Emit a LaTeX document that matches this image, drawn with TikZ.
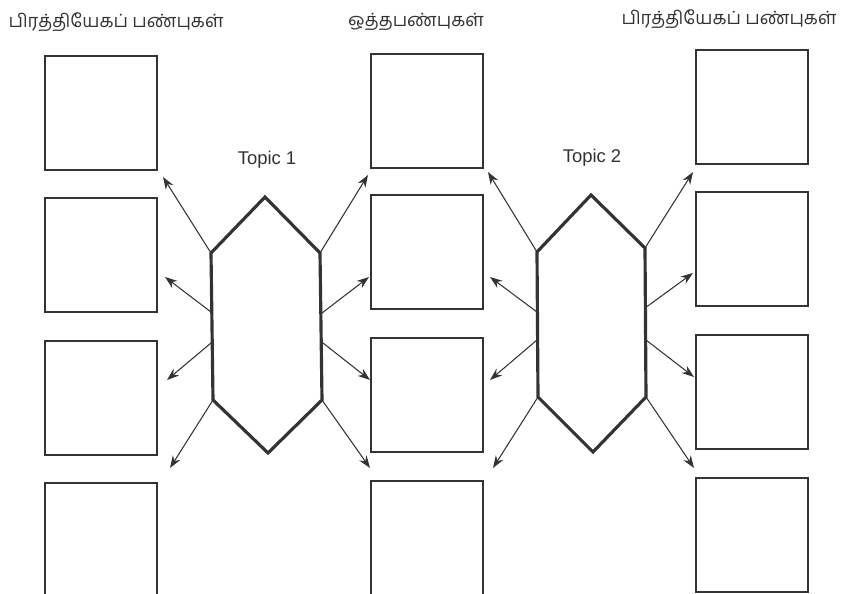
\documentclass[tikz,border=0pt]{standalone}
\usepackage{fontspec}
\setmainfont{Liberation Sans}
\newfontfamily\tamilfont[Script=Tamil]{Hind Madurai}
\usetikzlibrary{arrows.meta}
\definecolor{ink}{HTML}{333333}

\tikzset{
  box/.style={draw=ink, line width=1.2pt, minimum width=2.24cm, minimum height=2.28cm, inner sep=0pt},
  hexa/.style={draw=ink, line width=1.8pt, line join=miter},
  link/.style={draw=ink, line width=0.6pt, -{Stealth[length=7pt,width=5pt]}},
  head/.style={text=ink, font=\tamilfont\fontsize{10.4}{12}\selectfont},
  topic/.style={text=ink, font=\fontsize{10.5}{12}\selectfont}
}

\begin{document}
\begin{tikzpicture}[x=0.02cm,y=-0.02cm]
\useasboundingbox (0,0) rectangle (849,594);
\clip (0,0) rectangle (849,594);
% headings
\node[head] (hL) at (116,22) {பிரத்தியேகப் பண்புகள்};
\node[head] (hM) at (416,22) {ஒத்தபண்புகள்};
\node[head] (hR) at (729,19) {பிரத்தியேகப் பண்புகள்};
% columns of boxes
\foreach \n/\x/\a/\b/\c/\d in {L/101/113/255/398/540, M/427/111/252/395/538, R/752/107/249/392/535}{
  \node[box] (\n1) at (\x,\a) {};
  \node[box] (\n2) at (\x,\b) {};
  \node[box] (\n3) at (\x,\c) {};
  \node[box] (\n4) at (\x,\d) {};
}
% topic 1
\coordinate (a1) at (265,197); \coordinate (a2) at (320,253); \coordinate (a3) at (322,400);
\coordinate (a4) at (268,453); \coordinate (a5) at (213,400); \coordinate (a6) at (211,253);
\draw[hexa] (a1)--(a2)--(a3)--(a4)--(a5)--(a6)--cycle;
\node[topic] (t1) at (267,160) {Topic 1};
\coordinate (al1) at (211,312); \coordinate (al2) at (211,343);
\coordinate (ar1) at (322,313); \coordinate (ar2) at (323,343);
\coordinate (pl1) at (163,177); \coordinate (pl2) at (165,277); \coordinate (pl3) at (167,380); \coordinate (pl4) at (170,468);
\coordinate (pr1) at (368,175); \coordinate (pr2) at (369,277); \coordinate (pr3) at (370,380); \coordinate (pr4) at (370,468);
\draw[link] (a6)--(pl1); \draw[link] (al1)--(pl2); \draw[link] (al2)--(pl3); \draw[link] (a5)--(pl4);
\draw[link] (a2)--(pr1); \draw[link] (ar1)--(pr2); \draw[link] (ar2)--(pr3); \draw[link] (a3)--(pr4);
% topic 2
\coordinate (b1) at (591,195); \coordinate (b2) at (645,248); \coordinate (b3) at (646,397);
\coordinate (b4) at (593,452); \coordinate (b5) at (538,397); \coordinate (b6) at (537,252);
\draw[hexa] (b1)--(b2)--(b3)--(b4)--(b5)--(b6)--cycle;
\node[topic] (t2) at (592,158) {Topic 2};
\coordinate (bl1) at (537,312); \coordinate (bl2) at (537,340);
\coordinate (br1) at (645,308); \coordinate (br2) at (646,340);
\coordinate (ql1) at (488,172); \coordinate (ql2) at (490,277); \coordinate (ql3) at (490,380); \coordinate (ql4) at (493,468);
\coordinate (qr1) at (693,172); \coordinate (qr2) at (693,273); \coordinate (qr3) at (694,377); \coordinate (qr4) at (694,468);
\draw[link] (b6)--(ql1); \draw[link] (bl1)--(ql2); \draw[link] (bl2)--(ql3); \draw[link] (b5)--(ql4);
\draw[link] (b2)--(qr1); \draw[link] (br1)--(qr2); \draw[link] (br2)--(qr3); \draw[link] (b3)--(qr4);
\end{tikzpicture}
\end{document}
